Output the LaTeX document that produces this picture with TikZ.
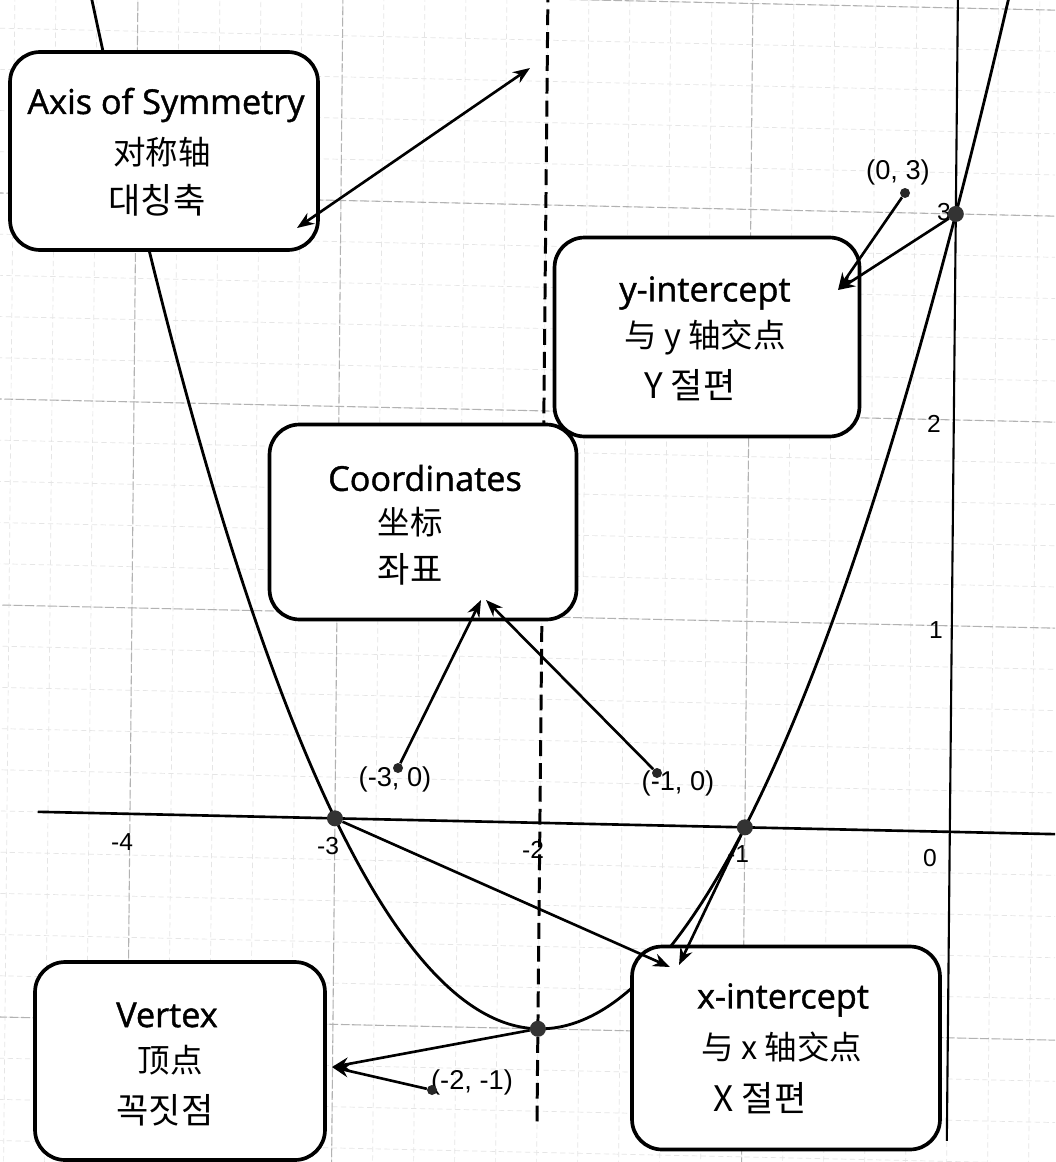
\documentclass[tikz,border=0pt]{standalone}
\usepackage{fontspec}
\setmainfont{Open Sans}
\newfontfamily\enf{Open Sans}[FakeBold=1.2]
\newfontfamily\zh{Noto Sans CJK SC}
\newfontfamily\ko{Noto Sans CJK KR}
\newfontfamily\lab{Liberation Sans}
\usetikzlibrary{arrows.meta}
\begin{document}
\begin{tikzpicture}[x=0.02cm,y=-0.02cm,
  box/.style={draw=black,line width=2.1pt,rounded corners=0.6cm,fill=white,inner sep=0pt},
  en/.style={font=\enf\fontsize{19.5}{22}\selectfont},
  zhs/.style={font=\zh\fontsize{18.5}{21}\selectfont},
  kos/.style={font=\ko\fontsize{20}{23}\selectfont},
  lbl/.style={font=\lab\fontsize{15.5}{18}\selectfont,inner sep=0pt},
  tick/.style={font=\lab\fontsize{14}{16}\selectfont,inner sep=0pt},
  arr/.style={line width=1.5pt,-{Stealth[length=0.34cm,width=0.26cm]}},
  bigdot/.style={circle,fill=black!80,minimum size=0.32cm,inner sep=0pt},
  smalldot/.style={circle,fill=black!85,minimum size=0.2cm,inner sep=0pt},
  minorgrid/.style={gray!20,line width=0.4pt,dash pattern=on 3pt off 2pt},
  majorgrid/.style={gray!60,line width=0.6pt,dash pattern=on 5pt off 1.5pt}]
\useasboundingbox (0,0) rectangle (1055,1162);
\fill[white] (0,0) rectangle (1055,1162);
\begin{scope}
\clip (0,0) rectangle (1055,1162);
\begin{scope}[shift={(19cm,-16.64cm)},x={(4.1cm,-0.09cm)},y={(0.04cm,4.12cm)}]
  \foreach \i in {-24,...,3} \draw[minorgrid] ({\i/5},-1.7) -- ({\i/5},4.2);
  \foreach \j in {-8,...,21} \draw[minorgrid] (-4.8,{\j/5}) -- (0.6,{\j/5});
  \foreach \i in {-4,-3,-1} \draw[majorgrid] (\i,-1.7) -- (\i,4.2);
  \foreach \j in {-1,1,2,3,4} \draw[majorgrid] (-4.8,\j) -- (0.6,\j);
  \draw[line width=1.5pt] (-4.45,0) -- (0.6,0);
  \draw[line width=1.2pt] (0,-1.5) -- (0,4.2);
  \draw[line width=1.7pt,dash pattern=on 9pt off 4pt] (-2,-1.45) -- (-2,4.1);
  \draw[line width=1.6pt] plot[domain=-4.32:0.32,samples=150,smooth] (\x,{\x*\x+4*\x+3});
  \coordinate (pA) at (-3,0);
  \coordinate (pB) at (-1,0);
  \coordinate (pV) at (-2,-1);
  \coordinate (pY) at (0,3);
\end{scope}
\end{scope}
% tick labels
\node[tick] (tm4) at (122,842) {-4};
\node[tick] (tm3) at (328,846) {-3};
\node[tick] (tm2) at (533,850) {-2};
\node[tick] (tm1) at (738,854) {-1};
\node[tick] (t0) at (930,858) {0};
\node[tick] (t1) at (936,630) {1};
\node[tick] (t2) at (934,424) {2};
\node[tick] (t3) at (944,212) {3};
% boxes
\node[box,minimum width=6.16cm,minimum height=3.96cm] (bAxis) at (164,151) {};
\node[box,minimum width=6.1cm,minimum height=3.98cm] (bYint) at (707,337) {};
\node[box,minimum width=6.14cm,minimum height=3.9cm] (bCoord) at (423,522) {};
\node[box,minimum width=5.8cm,minimum height=3.96cm] (bVert) at (180,1061) {};
\node[box,minimum width=6.16cm,minimum height=4.06cm] (bXint) at (786,1048) {};
% box texts
\node[en] (aE) at (166,105) {Axis of Symmetry};
\node[zhs] (aZ) at (162,152) {对称轴};
\node[kos] (aK) at (157,200) {대칭축};
\node[en] (yE) at (705,293) {y-intercept};
\node[zhs] (yZ) at (705,338) {与 y 轴交点};
\node[kos] (yK) at (690,385) {Y 절편};
\node[en] (cE) at (425,478) {Coordinates};
\node[zhs] (cZ) at (410,522) {坐标};
\node[kos] (cK) at (410,569) {좌표};
\node[en] (vE) at (167,1015) {Vertex};
\node[zhs] (vZ) at (170,1060) {顶点};
\node[kos] (vK) at (165,1110) {꼭짓점};
\node[en] (xE) at (783,1000) {x-intercept};
\node[zhs] (xZ) at (782,1047) {与 x 轴交点};
\node[kos] (xK) at (760,1098) {X 절편};
% point labels
\node[lbl] (lY) at (898,172) {(0, 3)};
\node[lbl] (lA) at (395,779) {(-3, 0)};
\node[lbl] (lB) at (678,783) {(-1, 0)};
\node[lbl] (lV) at (472,1082) {(-2, -1)};
% dots
\node[bigdot] (dA) at (pA) {};
\node[bigdot] (dB) at (pB) {};
\node[bigdot] (dV) at (pV) {};
\node[bigdot] (dY) at (pY) {};
\node[smalldot] (sY) at (905,193) {};
\node[smalldot] (sA) at (398,768) {};
\node[smalldot] (sB) at (657,773) {};
\node[smalldot] (sV) at (432,1090) {};
% arrow ends
\coordinate (axA) at (297,228);
\coordinate (axB) at (530,68);
\coordinate (tipY) at (838,290);
\coordinate (tipC1) at (481,600);
\coordinate (tipC2) at (486,600);
\coordinate (tipX1) at (670,967);
\coordinate (tipX2) at (679,965);
\coordinate (tipV) at (332,1067);
% arrows
\draw[line width=1.5pt,{Stealth[length=0.34cm,width=0.26cm]}-{Stealth[length=0.34cm,width=0.26cm]}] (axA) -- (axB);
\draw[arr] (sY) -- (tipY);
\draw[arr] (dY) -- (tipY);
\draw[arr] (sA) -- (tipC1);
\draw[arr] (sB) -- (tipC2);
\draw[arr] (dA) -- (tipX1);
\draw[arr] (dB) -- (tipX2);
\draw[arr] (dV) -- (tipV);
\draw[arr] (sV) -- (tipV);
\end{tikzpicture}
\end{document}
